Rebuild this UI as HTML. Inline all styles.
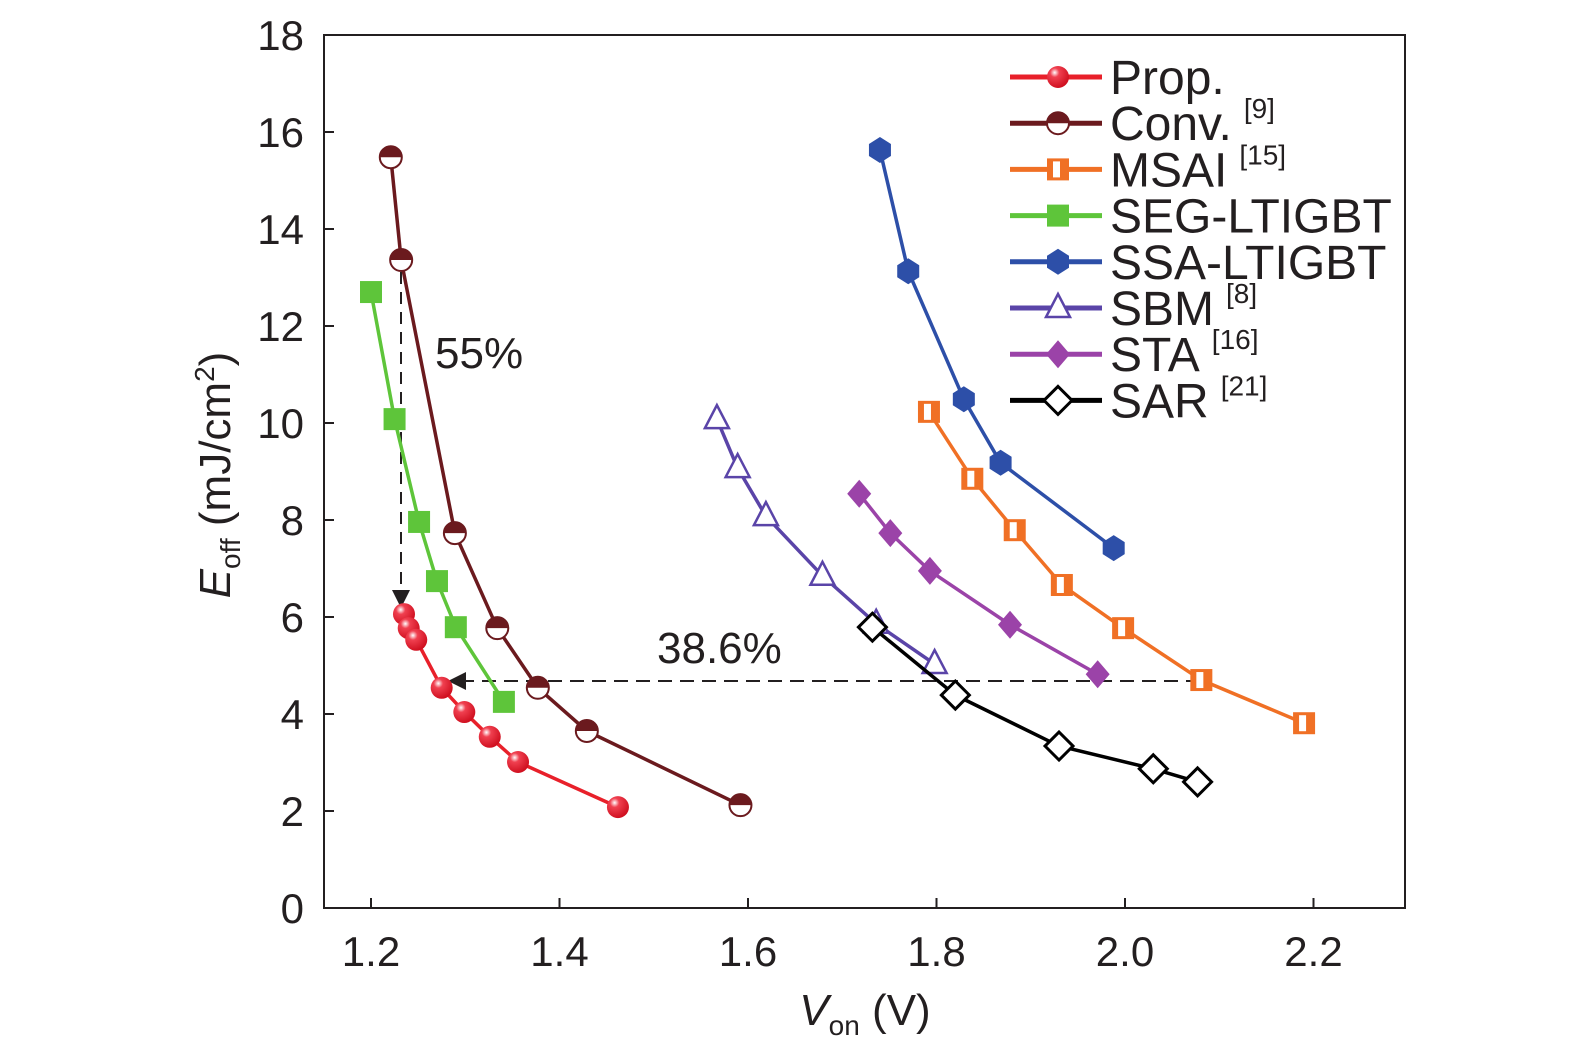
<!DOCTYPE html>
<html><head><meta charset="utf-8"><style>
body{margin:0;background:#fff}
svg{display:block}
text{font-family:"Liberation Sans",sans-serif;fill:#231f20}
</style></head><body>
<svg id="chart" width="1575" height="1059" viewBox="0 0 1575 1059" xmlns="http://www.w3.org/2000/svg">
<defs>
<radialGradient id="gRed" cx="0.35" cy="0.3" r="0.7"><stop offset="0" stop-color="#fff"/><stop offset="0.3" stop-color="#f04050"/><stop offset="1" stop-color="#d01020"/></radialGradient>
</defs>
<g id="axes"></g>
<g id="series"></g>
<g id="legend"></g>
</svg>
<script>
const xTicks=[1.2,1.4,1.6,1.8,2.0,2.2];
const yTicks=[0,2,4,6,8,10,12,14,16,18];
const propX=[1.235,1.240,1.248,1.275,1.299,1.326,1.356,1.462];
const propY=[6.06,5.77,5.53,4.54,4.04,3.53,3.01,2.08];
const convX=[1.221,1.232,1.289,1.334,1.377,1.429,1.592];
const convY=[15.48,13.36,7.73,5.77,4.54,3.65,2.12];
const segX=[1.200,1.225,1.251,1.270,1.290,1.341];
const segY=[12.70,10.08,7.96,6.74,5.79,4.25];
const ssaX=[1.740,1.770,1.829,1.868,1.988];
const ssaY=[15.63,13.13,10.49,9.18,7.42];
const msaiX=[1.792,1.838,1.883,1.933,1.998,2.081,2.190];
const msaiY=[10.23,8.85,7.79,6.66,5.77,4.70,3.81];
const sbmX=[1.567,1.589,1.619,1.679,1.736,1.798];
const sbmY=[10.08,9.07,8.08,6.85,5.86,5.03];
const staX=[1.718,1.751,1.793,1.878,1.971];
const staY=[8.54,7.73,6.95,5.84,4.82];
const sarX=[1.732,1.820,1.930,2.030,2.077];
const sarY=[5.79,4.39,3.34,2.87,2.60];
const seriesNames=["Prop.","Conv.","MSAI","SEG-LTIGBT","SSA-LTIGBT","SBM","STA","SAR"];
const seriesRefs=["","[9]","[15]","","","[8]","[16]","[21]"];

const NS="http://www.w3.org/2000/svg";
const X=v=>371+(v-1.2)*942.5;
const Y=v=>908-v*48.5;
function mk(tag,attrs,parent,txt){const e=document.createElementNS(NS,tag);for(const k in attrs)e.setAttribute(k,attrs[k]);if(txt!==undefined)e.textContent=txt;parent.appendChild(e);return e;}
const axes=document.getElementById('axes'),ser=document.getElementById('series'),leg=document.getElementById('legend');

const frame=mk('rect',{x:324,y:35,width:1081,height:873,fill:'none',stroke:'#231f20','stroke-width':2},axes);

xTicks.forEach(t=>{
  const l=mk('line',{x1:X(t),x2:X(t),y1:908,y2:898,stroke:'#231f20','stroke-width':2},axes);
  
  const tx=mk('text',{x:X(t),y:966,'font-size':42,'text-anchor':'middle'},axes,t.toFixed(1));
  
});
yTicks.forEach(t=>{
  const l=mk('line',{x1:324,x2:334,y1:Y(t),y2:Y(t),stroke:'#231f20','stroke-width':2},axes);
  
  const tx=mk('text',{x:304,y:Y(t)+15,'font-size':42,'text-anchor':'end'},axes,String(t));
  
});
const xt=mk('text',{x:865,y:1025,'font-size':44,'text-anchor':'middle'},axes);

xt.innerHTML='<tspan font-style="italic">V</tspan><tspan font-size="28" dy="10">on</tspan><tspan dy="-10"> (V)</tspan>';
const yt=mk('text',{x:0,y:0,'font-size':44,'text-anchor':'middle',transform:'translate(230,475) rotate(-90)'},axes);

yt.innerHTML='<tspan font-style="italic">E</tspan><tspan font-size="28" dy="10">off</tspan><tspan dy="-10"> (mJ/cm</tspan><tspan font-size="28" dy="-16">2</tspan><tspan dy="16">)</tspan>';

function marker(type,cx,cy,col,g){
  let e;
  if(type==='sphere'){e=mk('circle',{cx,cy,r:11,fill:'url(#gRed)'},g);}
  else if(type==='half'){e=mk('g',{},g);mk('circle',{cx,cy,r:11,fill:'#fff',stroke:col,'stroke-width':2},e);mk('path',{d:`M${cx-11},${cy} A11,11 0 0 1 ${cx+11},${cy} Z`,fill:col},e);}
  else if(type==='hsq'){e=mk('g',{},g);mk('rect',{x:cx-11,y:cy-11,width:22,height:22,fill:col},e);mk('rect',{x:cx-5,y:cy-8,width:7,height:16,fill:'#fff'},e);}
  else if(type==='sq'){e=mk('rect',{x:cx-11,y:cy-11,width:22,height:22,fill:col},g);}
  else if(type==='hex'){e=mk('polygon',{points:`${cx},${cy-13} ${cx+11},${cy-6} ${cx+11},${cy+6} ${cx},${cy+13} ${cx-11},${cy+6} ${cx-11},${cy-6}`,fill:col},g);}
  else if(type==='tri'){e=mk('polygon',{points:`${cx},${cy-14} ${cx+12},${cy+9} ${cx-12},${cy+9}`,fill:'#fff',stroke:col,'stroke-width':2.5},g);}
  else if(type==='dia'){e=mk('polygon',{points:`${cx},${cy-14} ${cx+12},${cy} ${cx},${cy+14} ${cx-12},${cy}`,fill:col},g);}
  else if(type==='odia'){e=mk('polygon',{points:`${cx},${cy-14} ${cx+14},${cy} ${cx},${cy+14} ${cx-14},${cy}`,fill:'#fff',stroke:col,'stroke-width':3},g);}
  return e;
}
const defs=[
 {xs:propX,ys:propY,col:'#e8202a',m:'sphere',n:'prop'},
 {xs:convX,ys:convY,col:'#6b1a1e',m:'half',n:'conv'},
 {xs:msaiX,ys:msaiY,col:'#f07025',m:'hsq',n:'msai'},
 {xs:segX,ys:segY,col:'#5ec53a',m:'sq',n:'seg-ltigbt'},
 {xs:ssaX,ys:ssaY,col:'#2d4fa8',m:'hex',n:'ssa-ltigbt'},
 {xs:sbmX,ys:sbmY,col:'#5a44a8',m:'tri',n:'sbm'},
 {xs:staX,ys:staY,col:'#9b43a8',m:'dia',n:'sta'},
 {xs:sarX,ys:sarY,col:'#000',m:'odia',n:'sar'}
];
defs.forEach((d,i)=>{
  const g=mk('g',{},ser);
  
  const pl=mk('polyline',{points:d.xs.map((x,j)=>X(x)+','+Y(d.ys[j])).join(' '),fill:'none',stroke:d.col,'stroke-width':3.5},g);
  
  d.xs.forEach((x,j)=>{const m=marker(d.m,X(x),Y(d.ys[j]),d.col,g);
    });
  const ly=77+i*46.2;
  const lg=mk('g',{},leg);
  
  mk('line',{x1:1010,x2:1102,y1:ly,y2:ly,stroke:d.col,'stroke-width':5},lg);
  marker(d.m,1058,ly,d.col,lg);
  const t=mk('text',{x:1110,y:ly+17,'font-size':48},lg,seriesNames[i]);
  if(seriesRefs[i]){mk('tspan',{'font-size':28,dy:-22,dx:12},t,seriesRefs[i]);}
});
const an=mk('g',{},axes);

mk('line',{x1:401,x2:401,y1:272,y2:592,stroke:'#231f20','stroke-width':2,'stroke-dasharray':'12,8'},an);
mk('polygon',{points:'392,590 410,590 401,608',fill:'#231f20'},an);
mk('line',{x1:1200,x2:464,y1:681,y2:681,stroke:'#231f20','stroke-width':2,'stroke-dasharray':'14,8'},an);
mk('polygon',{points:'466,672 466,690 448,681',fill:'#231f20'},an);
mk('text',{x:435,y:368,'font-size':44},an,'55%');
mk('text',{x:657,y:663,'font-size':44},an,'38.6%');
</script>
</body></html>
